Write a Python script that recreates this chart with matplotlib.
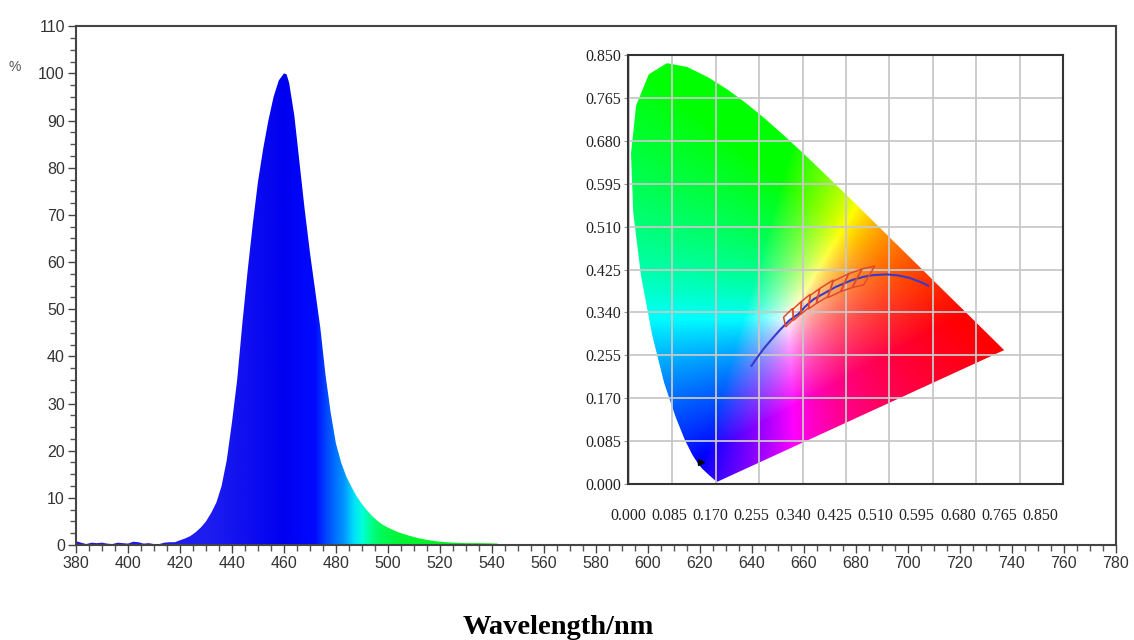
import numpy as np
import matplotlib.pyplot as plt
from matplotlib.patches import Polygon
from matplotlib.ticker import MultipleLocator

# emission spectrum (nm, relative %)
wavelength = [380, 382, 384, 386, 388, 390, 392, 394, 396, 398, 400, 402, 404, 406,
              408, 410, 412, 414, 416, 418, 420, 422, 424, 426, 428, 430, 432, 434,
              436, 438, 440, 442, 444, 446, 448, 450, 452, 454, 456, 458, 460, 461,
              462, 464, 466, 468, 470, 472, 474, 476, 478, 480, 482, 484, 486, 488,
              490, 492, 494, 496, 498, 500, 504, 508, 512, 516, 520, 525, 530, 535,
              540, 542, 544]
intensity = [0.8, 0.5, 0.2, 0.5, 0.4, 0.5, 0.3, 0.2, 0.5, 0.4, 0.3, 0.7, 0.6, 0.3,
             0.4, 0.2, 0.2, 0.5, 0.6, 0.6, 1.0, 1.4, 1.9, 2.7, 3.7, 5.0, 6.8, 9.0,
             12.5, 18, 26, 35, 47, 58, 68, 77, 84, 90, 95, 98.5, 100, 99.8,
             98, 91, 81, 71, 62, 54, 46, 36, 28, 21.5, 17.5, 14.5, 12.3, 10.3,
             8.7, 7.3, 6.1, 5.1, 4.3, 3.7, 2.7, 2.0, 1.4, 1.0, 0.7, 0.5, 0.4, 0.4,
             0.35, 0.3, 0.0]

# CIE 1931 spectral locus (x, y)
locus_x = [0.1741, 0.1733, 0.1726, 0.1714, 0.1689, 0.1644, 0.1566, 0.1440, 0.1355,
           0.1241, 0.1096, 0.0913, 0.0687, 0.0454, 0.0235, 0.0082, 0.0039, 0.0139,
           0.0389, 0.0743, 0.1142, 0.1547, 0.1929, 0.2296, 0.2658, 0.3016, 0.3373,
           0.3731, 0.4087, 0.4441, 0.4788, 0.5125, 0.5448, 0.5752, 0.6029, 0.6270,
           0.6658, 0.6915, 0.7079, 0.7190, 0.7260, 0.7300, 0.7334, 0.7347]
locus_y = [0.0050, 0.0048, 0.0048, 0.0051, 0.0069, 0.0109, 0.0177, 0.0297, 0.0399,
           0.0578, 0.0868, 0.1327, 0.2007, 0.2950, 0.4127, 0.5384, 0.6548, 0.7502,
           0.8120, 0.8338, 0.8262, 0.8059, 0.7816, 0.7543, 0.7243, 0.6923, 0.6589,
           0.6245, 0.5896, 0.5547, 0.5202, 0.4866, 0.4544, 0.4242, 0.3965, 0.3725,
           0.3340, 0.3083, 0.2920, 0.2809, 0.2740, 0.2700, 0.2666, 0.2653]

# Planckian locus (infinite T down to 1500 K)
planck_x = [0.2399, 0.2522, 0.2637, 0.2807, 0.2952, 0.3135, 0.3324, 0.3451, 0.3611,
            0.3805, 0.4053, 0.4369, 0.4599, 0.4770, 0.5045, 0.5267, 0.5497, 0.5729,
            0.5857]
planck_y = [0.2343, 0.2521, 0.2680, 0.2883, 0.3048, 0.3237, 0.3374, 0.3516, 0.3658,
            0.3768, 0.3907, 0.4041, 0.4106, 0.4137, 0.4153, 0.4133, 0.4083, 0.3993,
            0.3931]

# ANSI C78.377 quadrangles, 2700K .. 6500K
ansi_quads = [
    [(0.4813, 0.4319), (0.4562, 0.4260), (0.4373, 0.3893), (0.4593, 0.3944)],
    [(0.4562, 0.4260), (0.4299, 0.4165), (0.4147, 0.3814), (0.4373, 0.3893)],
    [(0.4299, 0.4165), (0.3996, 0.4015), (0.3889, 0.3690), (0.4147, 0.3814)],
    [(0.4006, 0.4044), (0.3736, 0.3874), (0.3670, 0.3578), (0.3898, 0.3716)],
    [(0.3736, 0.3874), (0.3548, 0.3736), (0.3512, 0.3465), (0.3670, 0.3578)],
    [(0.3551, 0.3760), (0.3376, 0.3616), (0.3366, 0.3369), (0.3515, 0.3487)],
    [(0.3376, 0.3616), (0.3207, 0.3462), (0.3222, 0.3243), (0.3366, 0.3369)],
    [(0.3205, 0.3481), (0.3028, 0.3304), (0.3068, 0.3113), (0.3221, 0.3261)],
]
led_xy = (0.141, 0.044)

cie_ticks = [0.000, 0.085, 0.170, 0.255, 0.340, 0.425, 0.510, 0.595, 0.680, 0.765, 0.850]

# colour stops for the spectrum fill
stop_nm = [380, 430, 460, 472, 477, 483, 487, 490, 493, 497, 505, 540, 780]
stop_rgb = np.array([
    [40, 20, 230], [30, 30, 240], [0, 0, 240], [0, 10, 255], [0, 80, 255],
    [0, 150, 255], [0, 225, 250], [0, 255, 220], [0, 255, 150], [0, 250, 90],
    [0, 245, 50], [0, 240, 20], [0, 240, 20]]) / 255.0

fig = plt.figure(figsize=(11.34, 6.4), dpi=100)
plt.rcParams["font.family"] = "Liberation Sans"

ax = fig.add_axes([0.067, 0.1484, 0.917, 0.8106])
ax.set_xlim(380, 780)
ax.set_ylim(0, 110)

grid_nm = np.linspace(380, 780, 1601)
grad = np.stack([np.interp(grid_nm, stop_nm, stop_rgb[:, c]) for c in range(3)], axis=-1)
im = ax.imshow(grad[np.newaxis, :, :], extent=[380, 780, 0, 110], aspect="auto",
               origin="lower", interpolation="bilinear", zorder=1)
spec_poly = Polygon(np.column_stack([[wavelength[0]] + wavelength + [wavelength[-1]],
                                     [0] + intensity + [0]]),
                    closed=True, facecolor="none", edgecolor="none")
ax.add_patch(spec_poly)
im.set_clip_path(spec_poly)

ax.xaxis.set_major_locator(MultipleLocator(20))
ax.xaxis.set_minor_locator(MultipleLocator(5))
ax.yaxis.set_major_locator(MultipleLocator(10))
ax.yaxis.set_minor_locator(MultipleLocator(2.5))
ax.tick_params(which="major", length=6, width=1, color="#444444", labelsize=11.5,
               labelcolor="#333333", pad=2)
ax.tick_params(which="minor", length=4, width=1, color="#555555")
for sp in ax.spines.values():
    sp.set_color("#444444")
    sp.set_linewidth(1.5)

fig.text(15 / 1134, 1 - 67 / 640, "%", fontsize=10, color="#555555",
         ha="center", va="center")
fig.text(558 / 1134, 1 - 628 / 640, "Wavelength/nm", fontsize=20.5,
         fontweight="bold", family="Liberation Serif", ha="center", va="center")

# CIE chromaticity inset
ax2 = fig.add_axes([628 / 1134, 1 - 484 / 640, 435 / 1134, 429 / 640])
ax2.set_xlim(0, 0.85)
ax2.set_ylim(0, 0.85)

n = 500
gx, gy = np.meshgrid(np.linspace(0.0005, 0.85, n), np.linspace(0.0005, 0.85, n))
X = gx / gy
Z = (1 - gx - gy) / gy
M = np.array([[3.2406, -1.5372, -0.4986],
              [-0.9689, 1.8758, 0.0415],
              [0.0557, -0.2040, 1.0570]])
xyz = np.stack([X, np.ones_like(X), Z], axis=-1)
rgb = np.clip(xyz @ M.T, 0, None)
rgb = rgb / rgb.max(axis=-1, keepdims=True)
rgb = np.clip(rgb, 0, 1) ** (1 / 1.2)
cie_im = ax2.imshow(rgb, extent=[0, 0.85, 0, 0.85], origin="lower",
                    interpolation="bilinear", aspect="auto", zorder=0)
cie_poly = Polygon(np.column_stack([locus_x, locus_y]), closed=True,
                   facecolor="none", edgecolor="none")
ax2.add_patch(cie_poly)
cie_im.set_clip_path(cie_poly)

# labels in the source sit on a slightly tighter pitch than the grid
label_pos = [t * 0.95 - 0.002 for t in cie_ticks]
ax2.set_xticks(label_pos)
ax2.set_xticklabels([f"{t:.3f}" for t in cie_ticks])
ax2.set_xticks(cie_ticks, minor=True)
ax2.set_yticks(cie_ticks)
ax2.set_yticklabels([f"{t:.3f}" for t in cie_ticks])
ax2.grid(True, which="minor", axis="x", color="#c8c8c8", linewidth=1.3)
ax2.grid(True, which="major", axis="y", color="#c8c8c8", linewidth=1.3)
ax2.tick_params(axis="x", which="both", length=0, pad=17)
ax2.tick_params(axis="y", length=3, color="#999999", pad=2)
for lab in ax2.get_xticklabels() + ax2.get_yticklabels():
    lab.set_family("Liberation Serif")
    lab.set_fontsize(11.5)
    lab.set_color("#222222")
for sp in ax2.spines.values():
    sp.set_color("#333333")
    sp.set_linewidth(1.5)

ax2.plot(planck_x, planck_y, color="#3a3ac8", linewidth=1.5, zorder=3)
for quad in ansi_quads:
    ax2.add_patch(Polygon(quad, closed=True, facecolor="none",
                          edgecolor="#e04a2a", linewidth=1.1, zorder=4))
ax2.plot([led_xy[0]], [led_xy[1]], marker=">", color="black", markersize=5, zorder=5)

plt.savefig("out.png", dpi=100)
